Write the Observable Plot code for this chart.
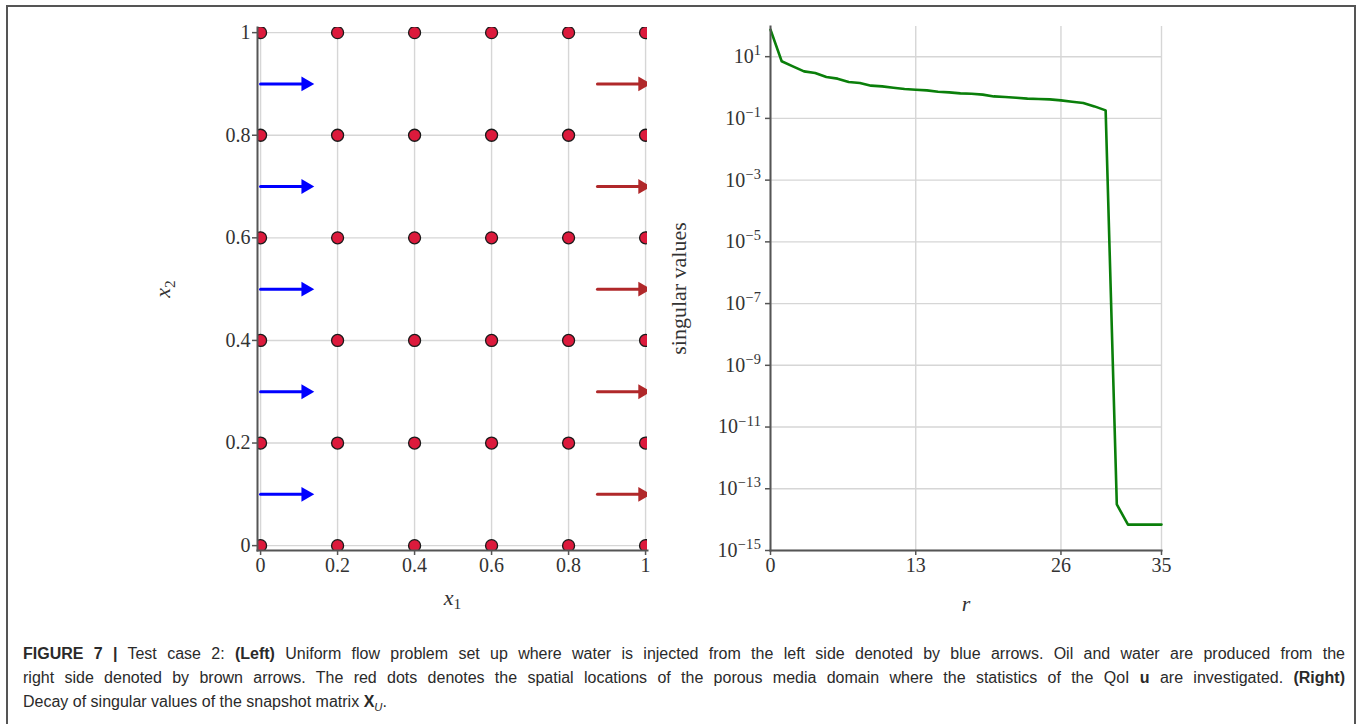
<!DOCTYPE html>
<html><head><meta charset="utf-8">
<script src="https://cdn.jsdelivr.net/npm/d3@7"></script>
<script src="https://cdn.jsdelivr.net/npm/@observablehq/plot@0.6"></script>
<style>
body{margin:0;background:#fff;width:1360px;height:724px;overflow:hidden;position:relative}
#frame{position:absolute;left:6px;top:5px;width:1350px;height:760px;border:2px solid #555;border-bottom:none;box-sizing:border-box}
#left{position:absolute;left:0;top:0;width:680px}
#right{position:absolute;left:680px;top:0;width:680px}
#caption{position:absolute;left:23px;top:642px;width:1322px;font-family:"Liberation Sans","Helvetica Neue",Arial,sans-serif;font-size:16px;line-height:24px;color:#2a2a2a}
#caption .l{display:block;white-space:nowrap}
#caption .j{text-align:justify;text-align-last:justify;white-space:normal}
#caption sub{font-size:0.7em;line-height:0}
</style></head><body>
<div id="frame"></div>
<div id="left"></div><div id="right"></div>
<div id="caption"><span class="l j"><b>FIGURE 7 |</b> Test case 2: <b>(Left)</b> Uniform flow problem set up where water is injected from the left side denoted by blue arrows. Oil and water are produced from the</span><span class="l j">right side denoted by brown arrows. The red dots denotes the spatial locations of the porous media domain where the statistics of the QoI <b>u</b> are investigated. <b>(Right)</b></span><span class="l">Decay of singular values of the snapshot matrix <b>X</b><sub><i>U</i></sub>.</span></div>
<script>
// ---- Left panel data ----
const gridX1 = [0, 0.2, 0.4, 0.6, 0.8, 1];
const gridX2 = [0, 0.2, 0.4, 0.6, 0.8, 1];
const arrowRows = [0.1, 0.3, 0.5, 0.7, 0.9];
const inflowFrom = [0, 0, 0, 0, 0];
const inflowTo = [0.138, 0.138, 0.138, 0.138, 0.138];
const outflowFrom = [0.875, 0.875, 0.875, 0.875, 0.875];
const outflowTo = [1.013, 1.013, 1.013, 1.013, 1.013];
const leftXDomain = [-0.008, 1.005];
const leftYDomain = [-0.0095, 1.01];

// ---- Right panel data ----
const rIndex = [0,1,2,3,4,5,6,7,8,9,10,11,12,13,14,15,16,17,18,19,20,21,22,23,24,25,26,27,28,29,30,31,32,33,34,35];
const singularValues = [75, 7.1, 4.85, 3.34, 2.95, 2.19, 1.94, 1.51, 1.40, 1.15, 1.09, 0.99, 0.895, 0.85, 0.81, 0.733, 0.697, 0.645, 0.63, 0.589, 0.516, 0.493, 0.468, 0.437, 0.427, 0.413, 0.384, 0.347, 0.316, 0.245, 0.182, 3.1e-14, 6.9e-15, 6.9e-15, 6.9e-15, 6.9e-15];
const rTicks = [0, 13, 26, 35];
const svTicks = [1e1, 1e-1, 1e-3, 1e-5, 1e-7, 1e-9, 1e-11, 1e-13, 1e-15];
const rDomain = [0, 35];
const svDomain = [1e-15, 95];

const serif = '"Liberation Serif", "DejaVu Serif", serif';
const gridStyle = {stroke: "#d6d6d6", strokeOpacity: 1, strokeWidth: 1.4};
const spine = {stroke: "#555", strokeWidth: 2};

const points = d3.cross(gridX1, gridX2);
const inflow = arrowRows.map((y, i) => ({y, x1: inflowFrom[i], x2: inflowTo[i]}));
const outflow = arrowRows.map((y, i) => ({y, x1: outflowFrom[i], x2: outflowTo[i]}));

const left = Plot.plot({
  width: 680, height: 620,
  marginLeft: 257, marginRight: 33, marginTop: 27, marginBottom: 70,
  style: {fontFamily: serif, fontSize: "20px", color: "#333", background: "transparent", overflow: "visible"},
  x: {domain: leftXDomain},
  y: {domain: leftYDomain},
  marks: [
    Plot.gridX(gridX1, gridStyle),
    Plot.gridY(gridX2, gridStyle),
    Plot.arrow(inflow, {x1: "x1", x2: "x2", y1: "y", y2: "y", stroke: "#0000ff", strokeWidth: 3, headLength: 0, insetEnd: 9, clip: true}),
    Plot.dot(inflow, {x: "x2", y: "y", symbol: "triangle", rotate: 90, r: 5.5, dx: -8, fill: "#0000ff", stroke: "none", clip: true}),
    Plot.arrow(outflow, {x1: "x1", x2: "x2", y1: "y", y2: "y", stroke: "#b0282a", strokeWidth: 3, headLength: 0, insetEnd: 9, clip: true}),
    Plot.dot(outflow, {x: "x2", y: "y", symbol: "triangle", rotate: 90, r: 5.5, dx: -8, fill: "#b0282a", stroke: "none", clip: true}),
    Plot.dot(points, {x: d => d[0], y: d => d[1], r: 6, fill: "#dc1a3c", stroke: "#1a1a1a", strokeWidth: 1.3, clip: true}),
    Plot.frame({anchor: "left", ...spine}),
    Plot.frame({anchor: "bottom", ...spine}),
    Plot.axisX(gridX1, {tickFormat: d => String(d), tickSize: 5, tickPadding: 2, stroke: "#555", strokeWidth: 1.5, label: "x1", labelAnchor: "center", labelOffset: 54, fontSize: 20}),
    Plot.axisY(gridX2, {tickFormat: d => String(d), tickSize: 5, tickPadding: 2, stroke: "#555", strokeWidth: 1.5, label: "x2", labelAnchor: "center", labelOffset: 103, fontSize: 20})
  ]
});
document.getElementById("left").append(left);

const svData = rIndex.map((r, i) => ({r, s: singularValues[i]}));
const right = Plot.plot({
  width: 680, height: 620,
  marginLeft: 90, marginRight: 199, marginTop: 26, marginBottom: 70,
  style: {fontFamily: serif, fontSize: "20px", color: "#333", background: "transparent", overflow: "visible"},
  x: {domain: rDomain},
  y: {type: "log", domain: svDomain},
  marks: [
    Plot.gridX(rTicks, gridStyle),
    Plot.gridY(svTicks, gridStyle),
    Plot.line(svData, {x: "r", y: "s", stroke: "#0a7f0a", strokeWidth: 2.6}),
    Plot.frame({anchor: "left", ...spine}),
    Plot.frame({anchor: "bottom", ...spine}),
    Plot.axisX(rTicks, {tickFormat: d => String(d), tickSize: 5, tickPadding: 2, stroke: "#555", strokeWidth: 1.5, label: "r", labelAnchor: "center", labelOffset: 60, fontSize: 20}),
    Plot.axisY(svTicks, {tickFormat: d => "10^" + Math.round(Math.log10(d)), tickSize: 5, tickPadding: 4, stroke: "#555", strokeWidth: 1.5, label: "singular values", labelAnchor: "center", labelOffset: 100, fontSize: 20})
  ]
});
document.getElementById("right").append(right);

const NS = "http://www.w3.org/2000/svg";
function tspan(parent, txt, attrs) {
  const t = document.createElementNS(NS, "tspan");
  t.textContent = txt;
  for (const k in attrs) t.setAttribute(k, attrs[k]);
  parent.appendChild(t);
  return t;
}
function mathLabel(svg, which, base, sub) {
  const t = svg.querySelector(`g[aria-label="${which}-axis label"] text`);
  if (!t) return;
  t.textContent = "";
  t.setAttribute("font-size", "22px");
  tspan(t, base, {"font-style": "italic"});
  if (sub) tspan(t, sub, {"font-size": "0.7em", dy: "0.3em"});
}
mathLabel(left, "x", "x", "1");
mathLabel(left, "y", "x", "2");
mathLabel(right, "x", "r", null);
const sl = right.querySelector('g[aria-label="y-axis label"] text');
if (sl) { sl.textContent = "singular values"; sl.setAttribute("font-size", "22px"); }
right.querySelectorAll('g[aria-label="y-axis tick label"] text').forEach(t => {
  const [b, e] = t.textContent.split("^");
  t.textContent = "";
  tspan(t, b, {});
  tspan(t, e.replace("-", "\u2212"), {"font-size": "0.72em", dy: "-0.55em", "letter-spacing": "0.5px"});
});
</script>
</body></html>
